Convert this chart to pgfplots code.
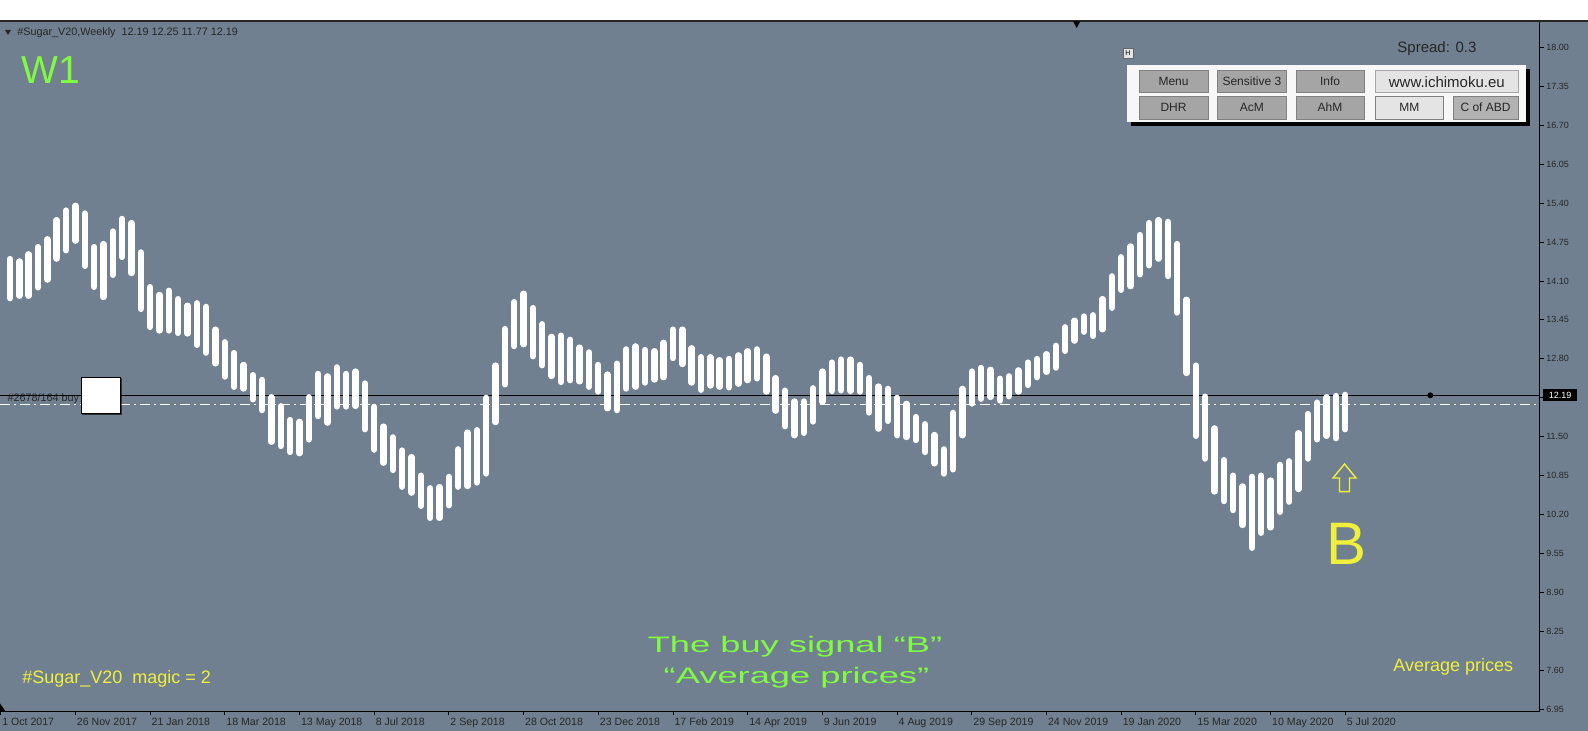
\documentclass[border=0pt]{standalone}
\usepackage{fontspec}
\setmainfont{Liberation Sans}
\usepackage{graphicx}
\usepackage{pgfplots}
\usepackage{pgfplotstable}
\pgfplotsset{compat=1.18}
\usetikzlibrary{calc}
\definecolor{slate}{RGB}{112,128,144}
\definecolor{mtgreen}{RGB}{128,252,64}
\definecolor{mtyellow}{RGB}{240,240,60}
\definecolor{btngray}{RGB}{165,165,165}
\definecolor{btnlight}{RGB}{228,228,228}
\definecolor{btnmid}{RGB}{178,178,178}

\pgfplotstableread{
k lo hi
0 13.76 14.52
1 13.80 14.48
2 13.80 14.60
3 13.94 14.72
4 14.07 14.85
5 14.42 15.17
6 14.56 15.33
7 14.72 15.41
8 14.30 15.28
9 13.95 14.72
10 13.78 14.77
11 14.15 14.98
12 14.45 15.19
13 14.18 15.12
14 13.58 14.63
15 13.28 14.05
16 13.22 13.92
17 13.22 13.99
18 13.18 13.85
19 13.17 13.74
20 12.98 13.78
21 12.85 13.72
22 12.67 13.34
23 12.45 13.13
24 12.28 12.95
25 12.25 12.75
26 12.07 12.58
27 11.89 12.50
28 11.36 12.21
29 11.29 12.06
30 11.19 11.83
31 11.17 11.80
32 11.40 12.21
33 11.79 12.60
34 11.68 12.56
35 11.95 12.71
36 11.95 12.60
37 11.96 12.64
38 11.57 12.44
39 11.23 12.05
40 11.01 11.72
41 10.89 11.54
42 10.61 11.32
43 10.51 11.21
44 10.29 10.90
45 10.09 10.69
46 10.09 10.71
47 10.30 10.88
48 10.61 11.34
49 10.62 11.62
50 10.68 11.66
51 10.83 12.20
52 11.69 12.74
53 12.32 13.35
54 12.96 13.80
55 12.99 13.94
56 12.79 13.70
57 12.64 13.43
58 12.46 13.22
59 12.36 13.24
60 12.39 13.17
61 12.37 13.04
62 12.28 12.96
63 12.20 12.75
64 11.92 12.59
65 11.89 12.77
66 12.25 13.01
67 12.28 13.06
68 12.35 13.00
69 12.40 12.98
70 12.44 13.12
71 12.76 13.34
72 12.66 13.34
73 12.35 13.03
74 12.23 12.88
75 12.30 12.88
76 12.28 12.83
77 12.27 12.85
78 12.33 12.91
79 12.39 12.98
80 12.42 13.01
81 12.20 12.89
82 11.88 12.53
83 11.62 12.32
84 11.47 12.14
85 11.51 12.14
86 11.70 12.36
87 12.03 12.64
88 12.21 12.79
89 12.22 12.84
90 12.21 12.84
91 12.20 12.75
92 11.85 12.53
93 11.58 12.39
94 11.71 12.35
95 11.47 12.20
96 11.44 12.10
97 11.39 11.88
98 11.19 11.76
99 11.00 11.58
100 10.83 11.34
101 10.90 11.95
102 11.47 12.35
103 12.00 12.64
104 12.08 12.70
105 12.11 12.67
106 12.05 12.52
107 12.12 12.56
108 12.20 12.66
109 12.31 12.79
110 12.44 12.85
111 12.53 12.93
112 12.60 13.07
113 12.88 13.38
114 13.05 13.49
115 13.20 13.56
116 13.13 13.58
117 13.24 13.85
118 13.60 14.23
119 13.90 14.55
120 13.96 14.73
121 14.16 14.92
122 14.31 15.12
123 14.42 15.17
124 14.13 15.14
125 13.52 14.77
126 12.51 13.84
127 11.46 12.74
128 11.08 12.22
129 10.53 11.69
130 10.37 11.16
131 10.22 10.90
132 9.97 10.72
133 9.59 10.88
134 9.84 10.90
135 9.93 10.82
136 10.19 11.08
137 10.36 11.14
138 10.57 11.61
139 11.08 11.93
140 11.40 12.12
141 11.46 12.21
142 11.42 12.23
143 11.57 12.25
}\bars

\newcommand{\btn}[6]{%
  \draw[fill=#5, draw=black!50, line width=0.3pt] (#1pt,#3pt) rectangle (#2pt,#4pt);
  \node[font=\fontsize{6}{7}\selectfont, text=black!85, inner sep=0pt] at ($(#1pt,#3pt)!0.5!(#2pt,#4pt)$) {#6};}

\begin{document}
\begin{tikzpicture}
\useasboundingbox (0pt,-9.75pt) rectangle (794pt,355.75pt);
\fill[white] (0pt,345pt) rectangle (794pt,355.75pt);
\fill[slate] (0pt,-9.75pt) rectangle (794pt,345pt);
% order label text under the marker
\node[anchor=west, font=\fontsize{5.4}{6}\selectfont, text=black!85, inner sep=0pt] at (3.6pt,156.3pt) {\#2678/164 buy};
\begin{axis}[
  at={(0pt,0pt)}, anchor=south west,
  scale only axis, width=769.75pt, height=345pt,
  xmin=-1.071, xmax=163.8, ymin=6.907, ymax=18.436,
  axis x line*=bottom, axis y line*=right,
  axis line style={black, line width=0.5pt, -},
  tick align=outside, major tick length=2pt,
  tick style={black, line width=0.4pt},
  xtick={-1,7,...,143},
  xticklabels={1 Oct 2017,26 Nov 2017,21 Jan 2018,18 Mar 2018,13 May 2018,8 Jul 2018,2 Sep 2018,28 Oct 2018,23 Dec 2018,17 Feb 2019,14 Apr 2019,9 Jun 2019,4 Aug 2019,29 Sep 2019,24 Nov 2019,19 Jan 2020,15 Mar 2020,10 May 2020,5 Jul 2020},
  ytick={6.95,7.60,8.25,8.90,9.55,10.20,10.85,11.50,12.15,12.80,13.45,14.10,14.75,15.40,16.05,16.70,17.35,18.00},
  yticklabels={6.95,7.60,8.25,8.90,9.55,10.20,10.85,11.50,,12.80,13.45,14.10,14.75,15.40,16.05,16.70,17.35,18.00},
  xticklabel style={anchor=north west, inner sep=0pt, font=\fontsize{5.3}{6}\selectfont, text=black!85, xshift=0.6pt, yshift=-1.2pt},
  yticklabel style={anchor=west, inner sep=0pt, font=\fontsize{4.5}{5}\selectfont, text=black!85, xshift=1.2pt},
]
\addplot[white, line width=0.55pt, dash pattern=on 5pt off 2pt on 1pt off 2pt, mark=none] coordinates {(-1.071,12.03) (163.8,12.03)};
\addplot[black, line width=0.5pt, mark=none] coordinates {(-1.071,12.19) (163.8,12.19)};
\addplot[draw=none, mark=none, error bars/.cd, y dir=plus, y explicit, error mark=none,
  error bar style={draw=white, line width=3.2pt, line cap=round, shorten <=1.6pt, shorten >=1.6pt}]
  table[x=k, y=lo, y error expr=\thisrow{hi}-\thisrow{lo}] {\bars};
\addplot[only marks, mark=square*, mark size=9.6pt, mark options={fill=black!35, draw=none, yscale=0.93, xshift=0.6pt, yshift=-0.6pt, opacity=0.6}] coordinates {(9.72,12.187)};
\addplot[only marks, mark=square*, mark size=9.6pt, mark options={fill=white, draw=none, yscale=0.93}] coordinates {(9.72,12.187)};
\addplot[only marks, mark=*, mark size=1.25pt, black] coordinates {(152.1,12.19)};
\end{axis}
% top line and marker
\draw[black!85, line width=1pt] (0pt,345pt) -- (794pt,345pt);
\fill[black] (536.6pt,345pt) -- (540.1pt,345pt) -- (538.35pt,341.75pt) -- cycle;
% header
\fill[black!85] (2.5pt,340.75pt) -- (5.5pt,340.75pt) -- (4pt,338.25pt) -- cycle;
\node[anchor=west, font=\fontsize{5.4}{6}\selectfont, text=black!85, inner sep=0pt] at (8.5pt,339.4pt) {\#Sugar\_V20,Weekly\ \ 12.19 12.25 11.77 12.19};
\node[anchor=base west, font=\fontsize{19.5}{22}\selectfont, text=mtgreen, inner sep=0pt] at (10.5pt,313.75pt) {W1};
% panel
\node[draw=black!60, fill=btnlight, font=\fontsize{3.5}{4}\selectfont, inner sep=0pt, minimum width=5pt, minimum height=5pt] at (564pt,329.25pt) {H};
\node[anchor=west, font=\fontsize{7.5}{8}\selectfont, text=black!85, inner sep=0pt] at (698.5pt,331.25pt) {Spread: 0.3};
\fill[black] (565.5pt,292.75pt) rectangle (765pt,321.25pt);
\fill[white!97!black] (563.5pt,294.75pt) rectangle (763pt,323.25pt);
\btn{569.5}{604}{309.4}{320.4}{btngray}{Menu}
\btn{608.85}{643}{309.4}{320.4}{btngray}{Sensitive 3}
\btn{648}{682}{309.4}{320.4}{btngray}{Info}
\draw[fill=btnlight, draw=black!35, line width=0.3pt] (687.85pt,309.4pt) rectangle (759pt,320.4pt);
\node[font=\fontsize{7.5}{8}\selectfont, text=black!85, inner sep=0pt] at (723.4pt,314.9pt) {www.ichimoku.eu};
\btn{569.5}{604}{296.25}{307.75}{btngray}{DHR}
\btn{608.85}{643}{296.25}{307.75}{btngray}{AcM}
\btn{648}{682}{296.25}{307.75}{btngray}{AhM}
\btn{687.85}{721.5}{296.25}{307.75}{btnlight}{MM}
\btn{726.5}{759}{296.25}{307.75}{btnmid}{C of ABD}
% price label
\node[fill=black, text=white, font=\fontsize{4.5}{5}\selectfont, inner sep=0pt, minimum width=16.7pt, minimum height=5.7pt] at (780pt,158.25pt) {12.19};
% signal annotations
\draw[mtyellow, line width=0.7pt, line join=miter] (672.25pt,123.75pt) -- (678pt,116.75pt) -- (674.75pt,116.75pt) -- (674.75pt,109.9pt) -- (669.75pt,109.9pt) -- (669.75pt,116.75pt) -- (666.5pt,116.75pt) -- cycle;
\node[anchor=base west, font=\fontsize{30}{32}\selectfont, text=mtyellow, inner sep=0pt] at (663pt,73.25pt) {B};
\node[anchor=base west, font=\fontsize{9}{10}\selectfont, text=mtyellow, inner sep=0pt] at (696.5pt,19.75pt) {Average prices};
\node[anchor=base west, font=\fontsize{9}{10}\selectfont, text=mtyellow, inner sep=0pt] at (11pt,13.95pt) {\#Sugar\_V20\ \ magic = 2};
\node[anchor=base, font=\fontsize{11.2}{12}\selectfont, text=mtgreen, inner sep=0pt] at (397.5pt,29.25pt) {\scalebox{1.62}[1]{The buy signal “B”}};
\node[anchor=base, font=\fontsize{11.2}{12}\selectfont, text=mtgreen, inner sep=0pt] at (398.25pt,13.95pt) {\scalebox{1.62}[1]{“Average prices”}};
\fill[black] (0pt,0.3pt) -- (0pt,4pt) -- (2.6pt,0.3pt) -- cycle;
\end{tikzpicture}
\end{document}
